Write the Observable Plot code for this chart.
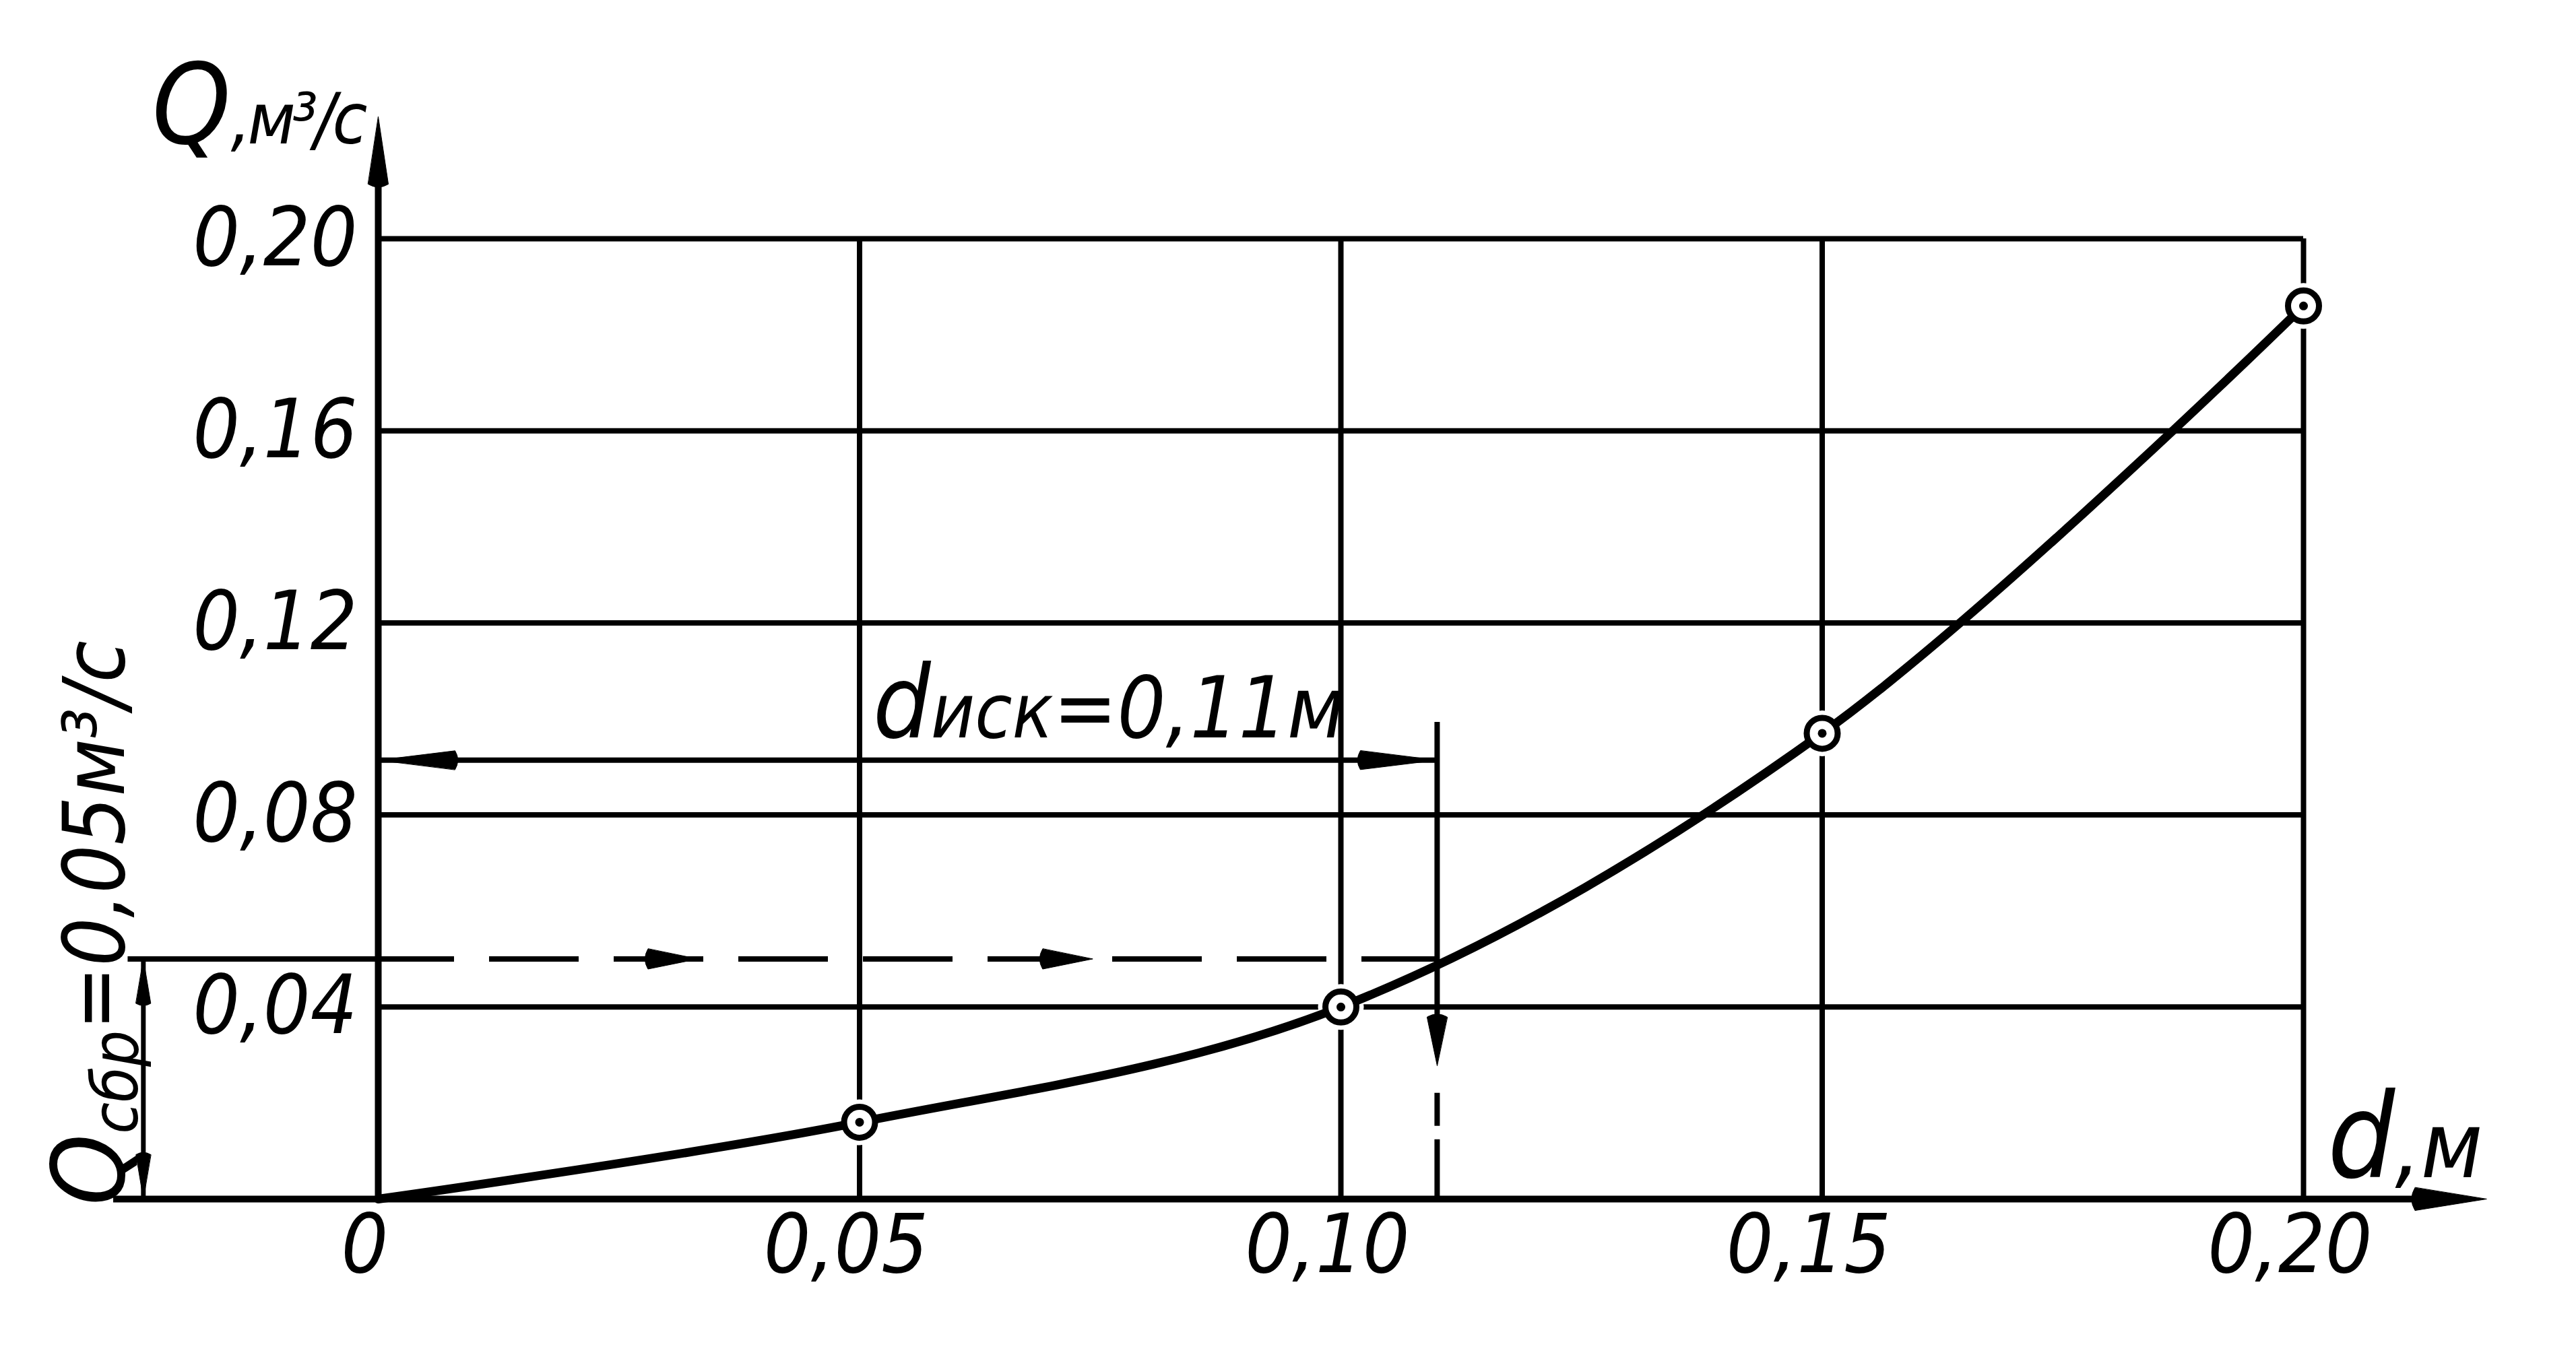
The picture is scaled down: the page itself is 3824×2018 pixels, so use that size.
<!DOCTYPE html>
<html>
<head>
<meta charset="utf-8">
<script src="https://cdn.jsdelivr.net/npm/d3@7"></script>
<script src="https://cdn.jsdelivr.net/npm/@observablehq/plot@0.6"></script>
<style>
  html, body { margin: 0; padding: 0; background: #fff; }
  #chart svg { display: block; }
  #chart svg text { font-style: italic; font-family: "Liberation Sans Narrow", "DejaVu Sans Condensed", "Liberation Sans", sans-serif; }
</style>
</head>
<body>
<div id="chart"></div>
<script>
// ---- data ----
const diameter  = [0, 0.05, 0.10, 0.15, 0.20];        // d, м
const discharge = [0, 0.016, 0.040, 0.097, 0.186];    // Q, м³/с
const xTickValues = [0, 0.05, 0.10, 0.15, 0.20];
const xTickLabels = ["0", "0,05", "0,10", "0,15", "0,20"];
const yTickValues = [0.04, 0.08, 0.12, 0.16, 0.20];
const yTickLabels = ["0,04", "0,08", "0,12", "0,16", "0,20"];
const gridX = [0.05, 0.10, 0.15, 0.20];
const gridY = [0.04, 0.08, 0.12, 0.16, 0.20];
const qDischarge = 0.05;   // Qсбр
const dFound = 0.11;       // dиск

// ---- annotation geometry (data units) ----
const dimLevelQ = 0.0914;          // level of the dиск dimension line
const dExtensionTop = 0.0993;      // top of extension line at d = 0.11
const downArrowQ = 0.0278;         // tip of the downward arrow at d = 0.11
const rightArrowsD = [0.0332, 0.0742];
const qDimD = -0.0244;             // vertical dimension line of Qсбр
const qExtLeft = -0.026;
const xAxisFrom = -0.0275, xAxisTip = 0.219;
const yAxisTip = 0.2254;

const labelQAxis = "Q,м³/с";
const labelDAxis = "d,м";
const labelDFound = "dиск=0,11м";
const labelQFound = "Qсбр=0,05м³/с";

const points = diameter.map((d, i) => ({d, q: discharge[i]}));
const marked = points.filter(p => p.d > 0);

const headShape = {
  draw(ctx, l, r) {
    ctx.moveTo(0, -l);
    ctx.lineTo(r, 0);
    ctx.quadraticCurveTo(0, r * 0.6, -r, 0);
    ctx.closePath();
  }
};
function head(x, y, rotate, length, r) {
  return Plot.vector([[x, y]], {
    x: p => p[0], y: p => p[1], rotate, length, r,
    anchor: "end", shape: headShape, fill: "black", stroke: "black", strokeWidth: 1
  });
}
const fmt = (values, labels) => v => labels[values.findIndex(t => Math.abs(t - v) < 1e-9)];

const chart = Plot.plot({
  width: 3824,
  height: 2018,
  marginLeft: 561,
  marginRight: 405,
  marginTop: 354,
  marginBottom: 238,
  x: {domain: [0, 0.2], label: null},
  y: {domain: [0, 0.2], label: null},
  style: {background: "#fff", color: "#000", overflow: "visible"},
  marks: [
    // grid
    Plot.ruleY(gridY, {x1: 0, x2: 0.2, strokeWidth: 8}),
    Plot.ruleX(gridX, {y1: 0, y2: 0.2, strokeWidth: 8}),
    // gaps in grid around the measured points
    Plot.dot(marked, {x: "d", y: "q", r: 34, fill: "white"}),
    // axes
    Plot.ruleY([0], {x1: xAxisFrom, x2: xAxisTip - 0.003, strokeWidth: 10}),
    Plot.ruleX([0], {y1: 0, y2: yAxisTip - 0.007, strokeWidth: 10}),
    head(xAxisTip, 0, 90, 106, 17),
    head(0, yAxisTip, 0, 100, 15),
    // dиск dimension line
    Plot.ruleY([dimLevelQ], {x1: 0, x2: dFound, strokeWidth: 8}),
    head(0, dimLevelQ, 270, 114, 14),
    head(dFound, dimLevelQ, 90, 114, 14),
    // extension line at d = dиск
    Plot.ruleX([dFound], {y1: downArrowQ + 0.004, y2: dExtensionTop, strokeWidth: 8}),
    Plot.ruleX([dFound], {y1: downArrowQ, y2: 0, strokeWidth: 8, strokeDasharray: "0,41,49,20,300,0"}),
    head(dFound, downArrowQ, 180, 72, 15),
    // Qсбр level line
    Plot.ruleY([qDischarge], {x1: qExtLeft, x2: 0, strokeWidth: 8}),
    Plot.ruleY([qDischarge], {x1: 0, x2: dFound, strokeWidth: 8, strokeDasharray: "133,52", strokeDashoffset: 20}),
    ...rightArrowsD.map(x => head(x, qDischarge, 90, 74, 15)),
    // Qсбр dimension line
    Plot.ruleX([qDimD], {y1: 0, y2: qDischarge, strokeWidth: 7}),
    head(qDimD, qDischarge, 0, 66, 11),
    head(qDimD, 0, 180, 66, 11),
    // curve
    Plot.line(points, {x: "d", y: "q", curve: "catmull-rom", strokeWidth: 13, strokeLinecap: "round"}),
    // point markers
    Plot.dot(marked, {x: "d", y: "q", r: 23, stroke: "black", strokeWidth: 9, fill: "white"}),
    Plot.dot(marked, {x: "d", y: "q", r: 6.5, fill: "black"}),
    // axes labels
    Plot.axisY({ticks: yTickValues, tickFormat: fmt(yTickValues, yTickLabels), tickSize: 0, tickPadding: 31, fontSize: 122, label: null}),
    Plot.axisX({ticks: xTickValues, tickFormat: fmt(xTickValues, xTickLabels), tickSize: 0, tickPadding: 22, fontSize: 122, dx: -20, label: null}),
    Plot.text([labelQAxis], {x: -0.0235, y: 0.2199, text: d => d, textAnchor: "start", lineAnchor: "bottom", fontSize: 120}),
    Plot.text([labelDAxis], {x: 0.2025, y: 0.0045, text: d => d, textAnchor: "start", lineAnchor: "bottom", fontSize: 135}),
    Plot.text([labelDFound], {x: 0.0759, y: 0.0962, text: d => d, textAnchor: "middle", lineAnchor: "bottom", fontSize: 126}),
    Plot.text([labelQFound], {x: -0.0264, y: 0.0575, text: d => d, textAnchor: "middle", lineAnchor: "bottom", rotate: -90, fontSize: 126})
  ]
});
document.getElementById("chart").appendChild(chart);

// rich text: big initial letters and subscripts
function rich(content, parts) {
  d3.select(chart).selectAll("text")
    .filter(function () { return this.textContent === content; })
    .each(function () {
      const t = d3.select(this);
      t.text(null);
      for (const p of parts) {
        const s = t.append("tspan").text(p.t);
        if (p.fs) s.attr("font-size", p.fs);
        if (p.dy) s.attr("dy", p.dy);
        if (p.ls) s.attr("letter-spacing", p.ls);
      }
    });
}
rich(labelQAxis, [{t: "Q", fs: 165}, {t: ",м³/с", fs: 105, ls: -5}]);
rich(labelDAxis, [{t: "d", fs: 175}, {t: ",м", fs: 135}]);
rich(labelDFound, [{t: "d", fs: 150}, {t: "иск", fs: 112}, {t: "=0,11м", fs: 126}]);
rich(labelQFound, [{t: "Q", fs: 150}, {t: "сбр", fs: 95, dy: 20}, {t: "=0,05м³/с", fs: 126, dy: -20}]);
</script>
</body>
</html>
